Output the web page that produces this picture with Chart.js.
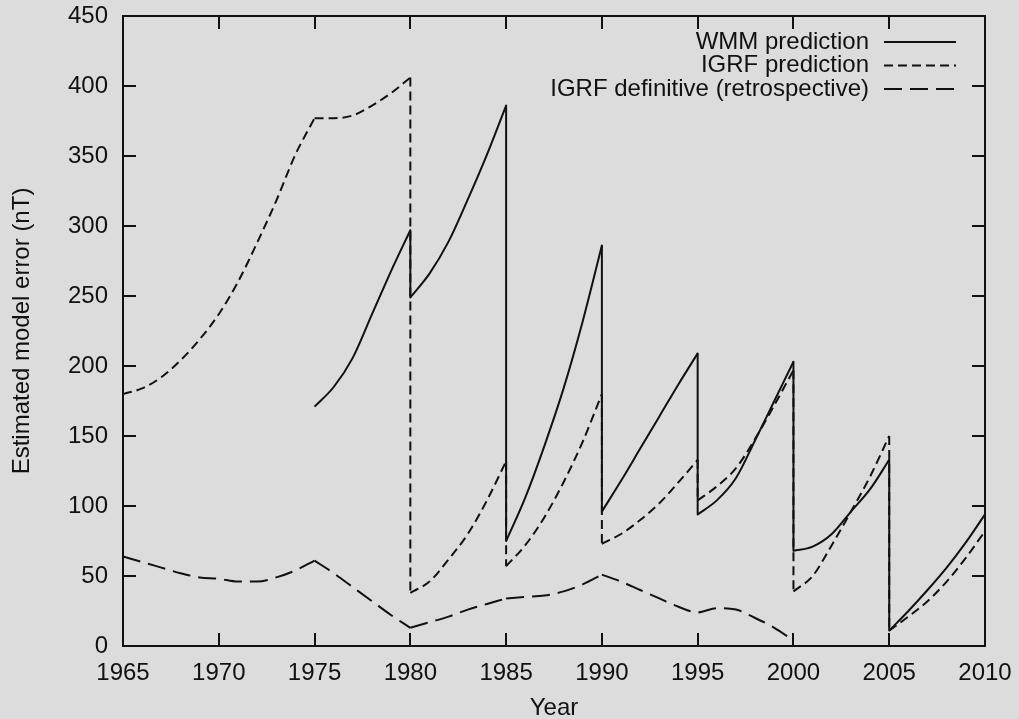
<!DOCTYPE html>
<html>
<head>
<meta charset="utf-8">
<title>Estimated model error</title>
<script src="https://cdn.jsdelivr.net/npm/chart.js@4/dist/chart.umd.min.js"></script>
<style>
  html, body { margin: 0; padding: 0; background: #dcdcdc; }
  #wrap { width: 1019px; height: 719px; }
</style>
</head>
<body>
<div id="wrap"><canvas id="chart" width="1019" height="719"></canvas></div>
<script>
// Axis ranges and ticks
const yearMin = 1965, yearMax = 2010, yearStep = 5;
const errMin = 0, errMax = 450, errStep = 50;

// Series labels
const seriesNames = ['WMM prediction', 'IGRF prediction', 'IGRF definitive (retrospective)'];

// WMM prediction: each epoch starts at a year, one value per year (nT)
const wmmStarts = [1975, 1980, 1985, 1990, 1995, 2000, 2005];
const wmmValues = [
  [171, 185, 206, 237, 268, 297],
  [249, 266, 289, 319, 351, 386],
  [75, 106, 143, 184, 232, 286],
  [96, 118, 141, 164, 187, 209],
  [94, 104, 120, 147, 175, 203],
  [68, 71, 80, 96, 112, 133],
  [11, 25, 40, 56, 74, 94]
];

// IGRF prediction
const igrfPredStarts = [1965, 1975, 1980, 1985, 1990, 1995, 2000, 2005];
const igrfPredValues = [
  [180, 184, 192, 204, 219, 237, 260, 288, 318, 351, 377],
  [377, 377, 379, 386, 395, 406],
  [38, 46, 62, 80, 104, 132],
  [57, 72, 92, 117, 146, 180],
  [73, 80, 90, 102, 117, 133],
  [104, 114, 127, 148, 172, 197],
  [39, 50, 72, 96, 121, 150],
  [11, 21, 32, 46, 63, 82]
];

// IGRF definitive (retrospective)
const igrfDefStarts = [1965, 1975, 1980, 1985, 1990];
const igrfDefValues = [
  [64, 60, 56, 52, 49, 48, 46, 46, 49, 54, 61],
  [61, 52, 42, 32, 22, 13],
  [13, 17, 21, 26, 30, 34],
  [34, 35, 36, 39, 44, 51],
  [51, 46, 40, 34, 28, 24, 27, 26, 20, 13, 4]
];

const ink = '#111111';
const fontFamily = '"Liberation Sans", Arial, Helvetica, sans-serif';
const fontSize = 24;

const styles = [
  { borderDash: [] },
  { borderDash: [9, 5] },
  { borderDash: [18, 8] }
];

// Turn one series into smooth per-epoch curves plus straight jumps between epochs
function buildSeries(starts, values, style) {
  const sets = [];
  let prevEnd = null;
  starts.forEach((start, i) => {
    const pts = values[i].map((v, k) => ({ x: start + k, y: v }));
    if (prevEnd && (prevEnd.x !== pts[0].x || prevEnd.y !== pts[0].y)) {
      sets.push(Object.assign({
        data: [prevEnd, pts[0]], tension: 0
      }, style));
    }
    sets.push(Object.assign({
      data: pts, cubicInterpolationMode: 'monotone'
    }, style));
    prevEnd = pts[pts.length - 1];
  });
  return sets.map(s => Object.assign({
    borderColor: ink, borderWidth: 2, pointRadius: 0, fill: false,
    borderCapStyle: 'butt', borderJoinStyle: 'round'
  }, s));
}

const datasets = [].concat(
  buildSeries(wmmStarts, wmmValues, styles[0]),
  buildSeries(igrfPredStarts, igrfPredValues, styles[1]),
  buildSeries(igrfDefStarts, igrfDefValues, styles[2])
);

// Background, closed frame with inward ticks on all sides, and the key
const framePlugin = {
  id: 'frame',
  beforeDraw(chart) {
    const ctx = chart.ctx;
    ctx.save();
    ctx.fillStyle = '#dcdcdc';
    ctx.fillRect(0, 0, chart.width, chart.height);
    ctx.restore();
  },
  afterDatasetsDraw(chart) {
    const ctx = chart.ctx;
    const a = chart.chartArea;
    const xs = chart.scales.x, ys = chart.scales.y;
    const tl = 13;
    ctx.save();
    ctx.strokeStyle = ink;
    ctx.lineWidth = 2;
    ctx.setLineDash([]);
    ctx.strokeRect(a.left, a.top, a.right - a.left, a.bottom - a.top);
    ctx.beginPath();
    for (let yr = yearMin + yearStep; yr < yearMax; yr += yearStep) {
      const px = Math.round(xs.getPixelForValue(yr));
      ctx.moveTo(px, a.bottom); ctx.lineTo(px, a.bottom - tl);
      ctx.moveTo(px, a.top); ctx.lineTo(px, a.top + tl);
    }
    for (let v = errMin + errStep; v < errMax; v += errStep) {
      const py = Math.round(ys.getPixelForValue(v));
      ctx.moveTo(a.left, py); ctx.lineTo(a.left + tl, py);
      ctx.moveTo(a.right, py); ctx.lineTo(a.right - tl, py);
    }
    ctx.stroke();

    // key, top right inside the plot
    const textRight = a.right - 116;
    const lineL = a.right - 101, lineR = a.right - 29;
    const rowY = [a.top + 26, a.top + 49.5, a.top + 73];
    ctx.font = fontSize + 'px ' + fontFamily;
    ctx.fillStyle = ink;
    ctx.textAlign = 'right';
    ctx.textBaseline = 'middle';
    seriesNames.forEach((name, i) => {
      ctx.fillText(name, textRight, rowY[i]);
      ctx.beginPath();
      ctx.setLineDash(styles[i].borderDash);
      ctx.lineDashOffset = 0;
      ctx.moveTo(lineL, rowY[i]);
      ctx.lineTo(lineR, rowY[i]);
      ctx.stroke();
    });
    ctx.restore();
  }
};

new Chart(document.getElementById('chart'), {
  type: 'line',
  data: { datasets },
  plugins: [framePlugin],
  options: {
    responsive: false,
    animation: false,
    devicePixelRatio: 1,
    layout: { padding: 0 },
    plugins: { legend: { display: false }, tooltip: { enabled: false } },
    scales: {
      x: {
        type: 'linear', min: yearMin, max: yearMax,
        afterFit(scale) {
          scale.height = 73;
          scale.paddingLeft = 0;
          scale.paddingRight = 34;
        },
        grid: { display: false, drawTicks: false },
        border: { display: false },
        ticks: {
          stepSize: yearStep, padding: 13, color: ink,
          font: { family: fontFamily, size: fontSize },
          callback: v => String(v), maxRotation: 0
        },
        title: {
          display: true, text: 'Year', color: ink,
          font: { family: fontFamily, size: fontSize },
          padding: { top: 0, bottom: -4 }
        }
      },
      y: {
        min: errMin, max: errMax,
        afterFit(scale) {
          scale.width = 123;
          scale.paddingTop = 16;
          scale.paddingBottom = 0;
        },
        grid: { display: false, drawTicks: false },
        border: { display: false },
        ticks: {
          stepSize: errStep, padding: 15, color: ink,
          font: { family: fontFamily, size: fontSize },
          callback: v => String(v)
        },
        title: {
          display: true, text: 'Estimated model error (nT)', color: ink,
          font: { family: fontFamily, size: fontSize },
          padding: { top: 8, bottom: 0 }
        }
      }
    }
  }
});
</script>
</body>
</html>
